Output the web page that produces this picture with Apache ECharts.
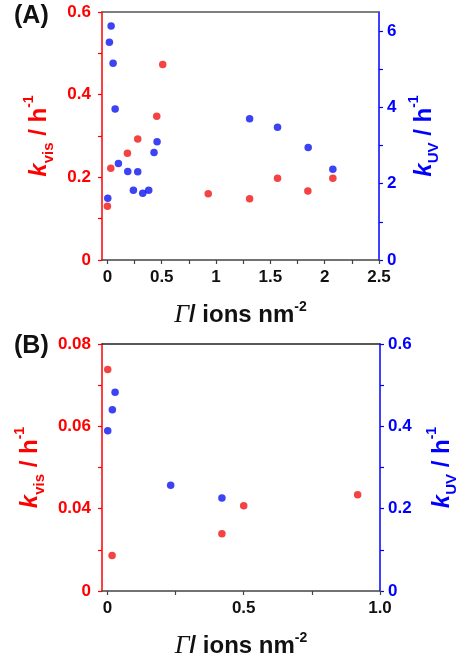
<!DOCTYPE html>
<html>
<head>
<meta charset="utf-8">
<script src="https://cdn.jsdelivr.net/npm/echarts@6/dist/echarts.min.js"></script>
<style>
  html, body { margin: 0; padding: 0; background: #fff; }
  #main { width: 457px; height: 658px; }
</style>
</head>
<body>
<div id="main"></div>
<script>
// ---- panel (A) data ----
var gammaVisA = [0, 0.031, 0.184, 0.279, 0.454, 0.509, 0.928, 1.309, 1.566, 1.845, 2.075];
var kVisA     = [0.130, 0.222, 0.258, 0.293, 0.348, 0.473, 0.160, 0.148, 0.198, 0.167, 0.198];
var gammaUvA  = [0.003, 0.018, 0.034, 0.052, 0.071, 0.101, 0.187, 0.239, 0.279, 0.325, 0.380, 0.429, 0.457, 1.309, 1.566, 1.848, 2.075];
var kUvA      = [1.62, 5.71, 6.13, 5.16, 3.96, 2.53, 2.32, 1.83, 2.31, 1.75, 1.83, 2.82, 3.10, 3.70, 3.48, 2.95, 2.38];

// ---- panel (B) data ----
var gammaVisB = [0.001, 0.017, 0.420, 0.500, 0.918];
var kVisB     = [0.0738, 0.0286, 0.0339, 0.0407, 0.0434];
var gammaUvB  = [0.001, 0.018, 0.028, 0.232, 0.420];
var kUvB      = [0.389, 0.440, 0.483, 0.257, 0.226];

// ---- ticks / labels ----
var xTicksA     = [0, 0.25, 0.5, 0.75, 1, 1.25, 1.5, 1.75, 2, 2.25, 2.5];
var xLabelValsA = [0, 0.5, 1, 1.5, 2, 2.5];
var xLabelsA    = ['0', '0.5', '1', '1.5', '2', '2.5'];
var yVisTicksA  = [0, 0.1, 0.2, 0.3, 0.4, 0.5, 0.6];
var yVisValsA   = [0, 0.2, 0.4, 0.6];
var yVisLabelsA = ['0', '0.2', '0.4', '0.6'];
var yUvTicksA   = [0, 1, 2, 3, 4, 5, 6];
var yUvValsA    = [0, 2, 4, 6];
var yUvLabelsA  = ['0', '2', '4', '6'];

var xTicksB     = [0, 0.25, 0.5, 0.75, 1];
var xLabelValsB = [0, 0.5, 1];
var xLabelsB    = ['0', '0.5', '1.0'];
var yVisTicksB  = [0.02, 0.03, 0.04, 0.05, 0.06, 0.07, 0.08];
var yVisValsB   = [0.02, 0.04, 0.06, 0.08];
var yVisLabelsB = ['0', '0.04', '0.06', '0.08'];
var yUvTicksB   = [0, 0.1, 0.2, 0.3, 0.4, 0.5, 0.6];
var yUvValsB    = [0, 0.2, 0.4, 0.6];
var yUvLabelsB  = ['0', '0.2', '0.4', '0.6'];

var RED = '#ff0000', BLUE = '#0000ff', DARK = '#444';
var FONT = 'Liberation Sans, Arial, sans-serif';

function zip(xs, ys) {
    return xs.map(function (x, i) { return [x, ys[i]]; });
}
function lookup(vals, labels) {
    return function (v) {
        var i = vals.indexOf(v);
        return i < 0 ? '' : labels[i];
    };
}

function kRich(color) {
    return {
        k:   { color: color, fontFamily: FONT, fontWeight: 'bold', fontStyle: 'italic', fontSize: 24, lineHeight: 34 },
        sub: { color: color, fontFamily: FONT, fontWeight: 'bold', fontSize: 15, lineHeight: 14, verticalAlign: 'bottom' },
        t:   { color: color, fontFamily: FONT, fontWeight: 'bold', fontSize: 24, lineHeight: 34 },
        sup: { color: color, fontFamily: FONT, fontWeight: 'bold', fontSize: 14, lineHeight: 10, verticalAlign: 'top' }
    };
}
var gammaRich = {
    g:   { color: '#111', fontFamily: 'Liberation Serif, serif', fontStyle: 'italic', fontSize: 26, lineHeight: 30 },
    t:   { color: '#111', fontFamily: FONT, fontWeight: 'bold', fontSize: 24, lineHeight: 30 },
    sup: { color: '#111', fontFamily: FONT, fontWeight: 'bold', fontSize: 14, lineHeight: 10, verticalAlign: 'top' }
};

function xAxisMain(grid, min, max, ticks, vals, labels) {
    return {
        gridIndex: grid, type: 'value', min: min, max: max, position: 'bottom',
        axisLine: { show: true, onZero: false, lineStyle: { color: DARK, width: 1.5 } },
        axisTick: { show: true, length: 4, customValues: ticks, lineStyle: { color: DARK, width: 1.2 } },
        axisLabel: { customValues: vals, formatter: lookup(vals, labels), margin: 9,
            color: '#111', fontFamily: FONT, fontWeight: 'bold', fontSize: 17 },
        splitLine: { show: false },
        name: '{g|Γ}{t|/ ions nm}{sup|-2}',
        nameLocation: 'middle', nameGap: 40,
        nameTextStyle: { rich: gammaRich }
    };
}
function xAxisTop(grid, min, max, color) {
    return {
        gridIndex: grid, type: 'value', min: min, max: max, position: 'top',
        axisLine: { show: true, onZero: false, lineStyle: { color: color, width: 1.5 } },
        axisTick: { show: false }, axisLabel: { show: false }, splitLine: { show: false }
    };
}
function yAxis(grid, side, color, min, max, ticks, vals, labels, sub, gap) {
    return {
        gridIndex: grid, type: 'value', position: side, min: min, max: max,
        axisLine: { show: true, onZero: false, lineStyle: { color: color, width: 1.5 } },
        axisTick: { show: true, length: 4, customValues: ticks, lineStyle: { color: color, width: 1.2 } },
        axisLabel: { customValues: vals, formatter: lookup(vals, labels), margin: side === 'left' ? 11 : 8,
            color: color, fontFamily: FONT, fontWeight: 'bold', fontSize: 17 },
        splitLine: { show: false },
        name: '{k|k}{sub|' + sub + '}{t| / h}{sup|-1}',
        nameLocation: 'middle', nameRotate: 90, nameGap: gap,
        nameTextStyle: { rich: kRich(color) }
    };
}

var chart = echarts.init(document.getElementById('main'));
var option = {
    animation: false,
    backgroundColor: '#fff',
    grid: [
        { left: 102, top: 12, width: 277, height: 248, outerBoundsMode: 'none' },
        { left: 102, top: 344, width: 278, height: 247, outerBoundsMode: 'none' }
    ],
    xAxis: [
        xAxisMain(0, -0.05, 2.5, xTicksA, xLabelValsA, xLabelsA),
        xAxisTop(0, -0.05, 2.5, '#555'),
        xAxisMain(1, -0.02, 1, xTicksB, xLabelValsB, xLabelsB),
        xAxisTop(1, -0.02, 1, '#222')
    ],
    yAxis: [
        yAxis(0, 'left', RED, 0, 0.6, yVisTicksA, yVisValsA, yVisLabelsA, 'vis', 42),
        yAxis(0, 'right', BLUE, 0, 6.5, yUvTicksA, yUvValsA, yUvLabelsA, 'UV', 28),
        yAxis(1, 'left', RED, 0.02, 0.08, yVisTicksB, yVisValsB, yVisLabelsB, 'vis', 45),
        yAxis(1, 'right', BLUE, 0, 0.6, yUvTicksB, yUvValsB, yUvLabelsB, 'UV', 45)
    ],
    series: [
        { type: 'scatter', xAxisIndex: 0, yAxisIndex: 0, symbolSize: 7.5,
          itemStyle: { color: '#f01414' }, data: zip(gammaVisA, kVisA) },
        { type: 'scatter', xAxisIndex: 0, yAxisIndex: 1, symbolSize: 7.5,
          itemStyle: { color: '#0a14f0' }, data: zip(gammaUvA, kUvA) },
        { type: 'scatter', xAxisIndex: 2, yAxisIndex: 2, symbolSize: 7.5,
          itemStyle: { color: '#f01414' }, data: zip(gammaVisB, kVisB) },
        { type: 'scatter', xAxisIndex: 2, yAxisIndex: 3, symbolSize: 7.5,
          itemStyle: { color: '#0a14f0' }, data: zip(gammaUvB, kUvB) }
    ],
    graphic: [
        { type: 'text', left: 14, top: 4,
          style: { text: '(A)', fill: '#111', font: 'bold 25px ' + FONT } },
        { type: 'text', left: 14, top: 334,
          style: { text: '(B)', fill: '#111', font: 'bold 25px ' + FONT } }
    ]
};
chart.setOption(option);
</script>
</body>
</html>
